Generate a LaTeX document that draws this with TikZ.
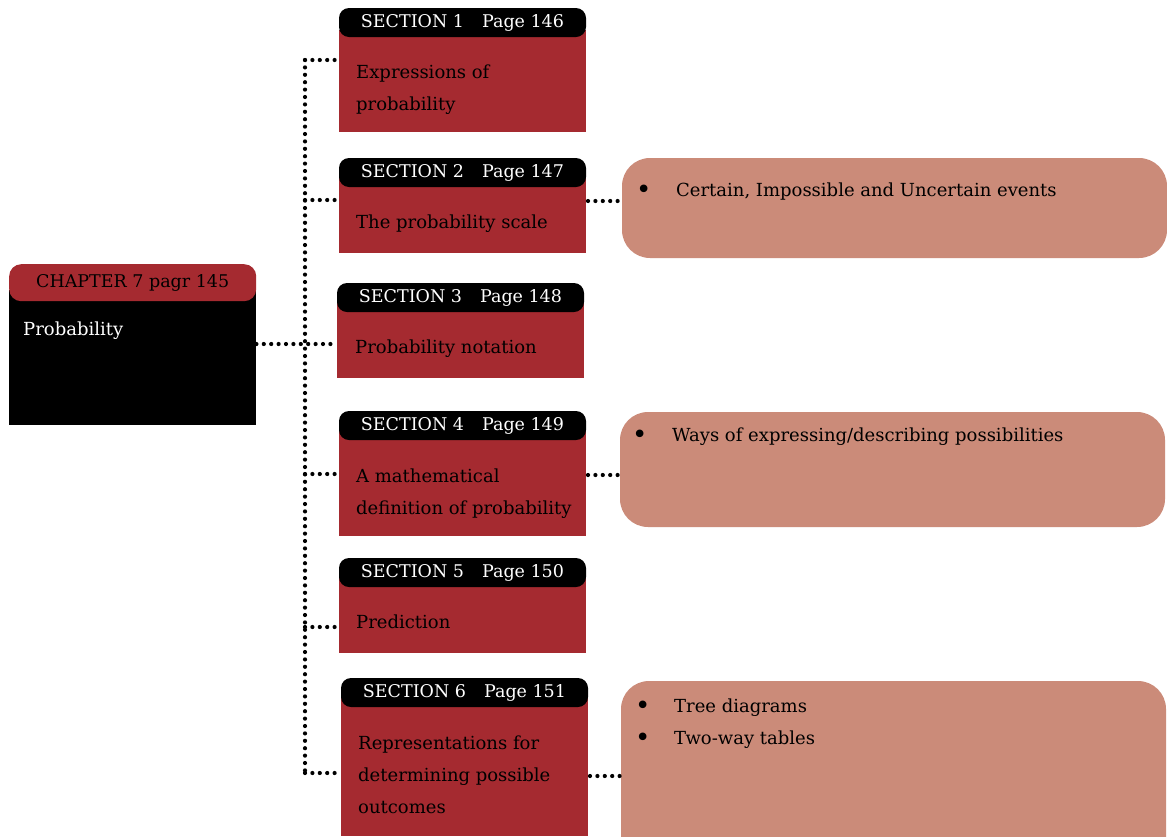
\documentclass[tikz,border=0pt]{standalone}
\usepackage{fontspec}
\setmainfont{DejaVu Serif}
\definecolor{secred}{HTML}{A52A30}
\definecolor{salmon}{HTML}{CB8B79}
\begin{document}
\begin{tikzpicture}[x=1pt,y=-1pt,
  body/.style={fill=secred, minimum width=247pt, anchor=north west, inner sep=0pt, outer sep=0pt},
  head/.style={fill=black, rounded corners=10pt, minimum width=247pt, minimum height=29pt, anchor=north west, inner sep=0pt, outer sep=0pt, text=white, font=\fontsize{17.5}{20}\selectfont},
  btxt/.style={anchor=base west, inner sep=0pt, font=\fontsize{18}{20}\selectfont, text=black},
  bul/.style={anchor=base west, inner sep=0pt, font=\fontsize{26}{20}\selectfont, text=black},
  detail/.style={fill=salmon, rounded corners=28pt, minimum width=545pt, anchor=north west, inner sep=0pt, outer sep=0pt},
  dots/.style={line width=4.2pt, line cap=round, dash pattern=on 0pt off 7.4pt, draw=black}
]
\useasboundingbox (0,0) rectangle (1167,836);
% chapter
\node[fill=black, minimum width=247pt, minimum height=135pt, anchor=north west, inner sep=0pt] (chb) at (9,290) {};
\node[fill=secred, rounded corners=12pt, minimum width=247pt, minimum height=37pt, anchor=north west, inner sep=0pt, font=\fontsize{17.5}{20}\selectfont] (chh) at (9,264) {CHAPTER 7 pagr 145};
\node[btxt, text=white] (cht) at (23,335) {Probability};
% sections
\node[body, minimum height=102pt] (b1) at (339,30) {};
\node[head] (h1) at (339,8) {SECTION 1\hspace{18pt}Page 146};
\node[btxt] (t1a) at (356,78) {Expressions of};
\node[btxt] (t1b) at (356,110) {probability};

\node[body, minimum height=83pt] (b2) at (339,170) {};
\node[head] (h2) at (339,158) {SECTION 2\hspace{18pt}Page 147};
\node[btxt] (t2) at (356,228) {The probability scale};

\node[body, minimum height=83pt] (b3) at (337,295) {};
\node[head] (h3) at (337,283) {SECTION 3\hspace{18pt}Page 148};
\node[btxt] (t3) at (355,353) {Probability notation};

\node[body, minimum height=112pt] (b4) at (339,424) {};
\node[head] (h4) at (339,411) {SECTION 4\hspace{18pt}Page 149};
\node[btxt] (t4a) at (356,482) {A mathematical};
\node[btxt] (t4b) at (356,514) {definition of probability};

\node[body, minimum height=83pt] (b5) at (339,570) {};
\node[head] (h5) at (339,558) {SECTION 5\hspace{18pt}Page 150};
\node[btxt] (t5) at (356,628) {Prediction};

\node[body, minimum height=146pt] (b6) at (341,690) {};
\node[head] (h6) at (341,678) {SECTION 6\hspace{18pt}Page 151};
\node[btxt] (t6a) at (358,749) {Representations for};
\node[btxt] (t6b) at (358,781) {determining possible};
\node[btxt] (t6c) at (358,813) {outcomes};
% details
\node[detail, minimum height=100pt] (d1) at (622,158) {};
\node[bul] (d1b) at (636,198) {•};
\node[btxt] (d1t) at (676,196) {Certain, Impossible and Uncertain events};

\node[detail, minimum height=115pt] (d2) at (620,412) {};
\node[bul] (d2b) at (632,443) {•};
\node[btxt] (d2t) at (672,441) {Ways of expressing/describing possibilities};

\node[detail, minimum height=200pt] (d3) at (621,681) {};
\node[bul] (d3b1) at (635,714) {•};
\node[btxt] (d3t1) at (674,712) {Tree diagrams};
\node[bul] (d3b2) at (635,746) {•};
\node[btxt] (d3t2) at (674,744) {Two-way tables};
% connectors
\coordinate (j1) at (305,60);
\coordinate (j2) at (305,200);
\coordinate (j3) at (305,344);
\coordinate (j4) at (305,474);
\coordinate (j5) at (305,627);
\coordinate (j6) at (305,773);
\draw[dots] (j1) -- (j6);
\draw[dots] (j1) -- (j1 -| b1.west);
\draw[dots] (j2) -- (j2 -| b2.west);
\draw[dots] (j3 -| chb.east) -- (j3 -| b3.west);
\draw[dots] (j4) -- (j4 -| b4.west);
\draw[dots] (j5) -- (j5 -| b5.west);
\draw[dots] (j6) -- (j6 -| b6.west);
\coordinate (r2) at (588,201);
\coordinate (r4) at (588,475);
\coordinate (r6) at (590,776);
\draw[dots] (r2) -- (r2 -| d1.west);
\draw[dots] (r4) -- (r4 -| d2.west);
\draw[dots] (r6) -- (r6 -| d3.west);
\end{tikzpicture}
\end{document}
